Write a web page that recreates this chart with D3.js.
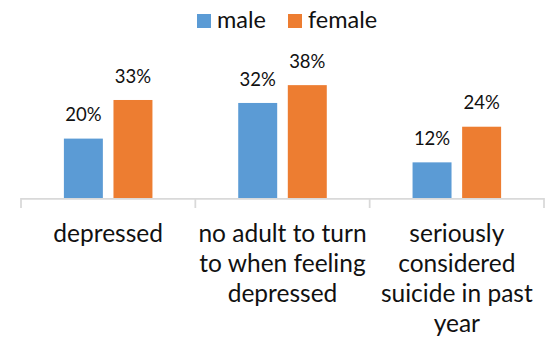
<!DOCTYPE html>
<html>
<head>
<meta charset="utf-8">
<script src="https://cdn.jsdelivr.net/npm/d3@7"></script>
<style>
  html, body { margin: 0; padding: 0; background: #fff; }
  svg { display: block; font-family: Lato, "Open Sans", sans-serif; }
</style>
</head>
<body>
<svg id="chart" width="545" height="343"></svg>
<script>
// Survey responses by sex
const categories = [
  "depressed",
  "no adult to turn to when feeling depressed",
  "seriously considered suicide in past year"
];
const seriesNames = ["male", "female"];
const maleValues = [0.20, 0.32, 0.12];
const femaleValues = [0.33, 0.38, 0.24];
const seriesColors = ["#5B9BD5", "#ED7D31"];

const rows = categories.map((c, i) => ({
  category: c,
  values: [
    { key: "male", value: maleValues[i] },
    { key: "female", value: femaleValues[i] }
  ]
}));

const svg = d3.select("#chart");
const baseY = 198;

const x = d3.scaleBand().domain(categories).range([21, 544]).paddingInner(0).paddingOuter(0);
const xs = d3.scaleBand().domain(seriesNames).range([0, x.bandwidth()])
  .paddingInner(0.214).paddingOuter(0.865);
const y = d3.scaleLinear().domain([0, 0.4]).range([baseY, baseY - 118.8]);
const color = d3.scaleOrdinal().domain(seriesNames).range(seriesColors);
const fmt = d3.format(".0%");

// bars
const groups = svg.append("g").selectAll("g").data(rows).join("g")
  .attr("transform", d => `translate(${x(d.category)},0)`);

groups.selectAll("rect").data(d => d.values).join("rect")
  .attr("x", d => xs(d.key))
  .attr("width", xs.bandwidth())
  .attr("y", d => y(d.value))
  .attr("height", d => baseY - y(d.value))
  .attr("fill", d => color(d.key));

// value labels
groups.selectAll("text").data(d => d.values).join("text")
  .attr("x", d => xs(d.key) + xs.bandwidth() / 2)
  .attr("y", d => y(d.value) - 17.3)
  .attr("text-anchor", "middle")
  .attr("font-size", 18.5)
  .attr("fill", "#111")
  .text(d => fmt(d.value));

// category axis
const axis = d3.axisBottom(x).tickSize(0).tickFormat(d => d);
const axisG = svg.append("g").attr("transform", `translate(0,${baseY})`).call(axis);
axisG.select(".domain").remove();
axisG.selectAll(".tick text").remove();

const edges = [x.range()[0]].concat(categories.map(c => x(c) + x.bandwidth()));
axisG.append("line")
  .attr("x1", x.range()[0]).attr("x2", x.range()[1])
  .attr("y1", 0.9).attr("y2", 0.9)
  .attr("stroke", "#d9d9d9").attr("stroke-width", 1.75);
axisG.selectAll(".sep").data(edges).join("line")
  .attr("class", "sep")
  .attr("x1", d => d).attr("x2", d => d)
  .attr("y1", 0).attr("y2", 10)
  .attr("stroke", "#d9d9d9").attr("stroke-width", 1.75);

// wrapped category labels
const lineHeight = 30;
const labels = svg.append("g").selectAll("text").data(categories).join("text")
  .attr("text-anchor", "middle")
  .attr("font-size", 24.5)
  .attr("fill", "#111")
  .attr("x", d => x(d) + x.bandwidth() / 2)
  .attr("y", 241.7);

labels.each(function(d) {
  const t = d3.select(this);
  const cx = +t.attr("x");
  const words = d.split(" ");
  const maxW = x.bandwidth() - 4;
  let line = [];
  let lineNo = 0;
  let ts = t.append("tspan").attr("x", cx).attr("dy", 0);
  words.forEach(w => {
    line.push(w);
    ts.text(line.join(" "));
    if (ts.node().getComputedTextLength() > maxW && line.length > 1) {
      line.pop();
      ts.text(line.join(" "));
      line = [w];
      lineNo++;
      ts = t.append("tspan").attr("x", cx).attr("dy", lineHeight).text(w);
    }
  });
});

// legend
const legendItems = [
  { key: "male", sx: 197, tx: 217 },
  { key: "female", sx: 288, tx: 308 }
];
const legend = svg.append("g").selectAll("g").data(legendItems).join("g");
legend.append("rect")
  .attr("x", d => d.sx).attr("y", 14)
  .attr("width", 14).attr("height", 14)
  .attr("fill", d => color(d.key));
legend.append("text")
  .attr("x", d => d.tx).attr("y", 28.3)
  .attr("font-size", 23.5)
  .attr("fill", "#111")
  .text(d => d.key);
</script>
</body>
</html>
